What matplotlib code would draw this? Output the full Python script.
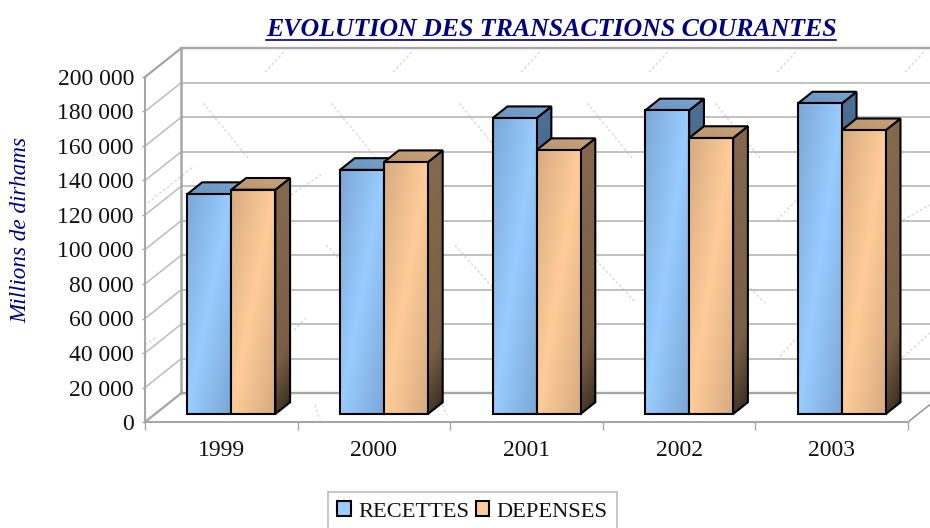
import numpy as np
import matplotlib
matplotlib.use('Agg')
import matplotlib.pyplot as plt
from matplotlib.colors import LinearSegmentedColormap
from matplotlib.lines import Line2D
from matplotlib.patches import Patch, Polygon

plt.rcParams['font.family'] = ['Liberation Serif', 'DejaVu Serif']

years = ['1999', '2000', '2001', '2002', '2003']
recettes = [127500, 141500, 171500, 176000, 180000]
depenses = [130000, 146000, 153000, 160000, 164500]
y_ticks = list(range(0, 200001, 20000))
y_tick_labels = ['0', '20 000', '40 000', '60 000', '80 000', '100 000', '120 000',
                 '140 000', '160 000', '180 000', '200 000']

W, H = 930, 528
fig = plt.figure(figsize=(W / 100, H / 100), dpi=100)
ax = fig.add_axes([145 / W, 1 - 422 / H, (908 - 145) / W, (422 - 77) / H])
ax.set_zorder(2)
ax.patch.set_alpha(0)

# how far one unit of fake depth moves things, in data units
depth_x = 36 / 152.6
depth_y = 28.6 / 1.725 * 1000
bar_w = 0.288
front = 0.28
back = 0.69

grey = '#a6a6a6'
grid_grey = '#bcbcbc'


def proj(x, y, d):
    return (x + d * depth_x, y + d * depth_y)


def shaded_poly(pts, cm, values, z):
    xs = [p[0] for p in pts]
    ys = [p[1] for p in pts]
    im = ax.imshow(values, cmap=cm, vmin=0, vmax=1, aspect='auto', origin='upper',
                   extent=(min(xs), max(xs), min(ys), max(ys)), zorder=z, interpolation='bilinear')
    poly = Polygon(pts, closed=True, facecolor='none', edgecolor='black', lw=1.5,
                   joinstyle='miter', zorder=z + 0.1, clip_on=False)
    ax.add_patch(poly)
    im.set_clip_path(poly)


uu, vv = np.meshgrid(np.linspace(0, 1, 80), np.linspace(0, 1, 80))
front_vals = np.abs(uu + vv - 1)
side_vals = np.clip(0.9 * vv + 0.1 * uu, 0, 1)
top_vals = 0.36 * (1 - uu) + 0.3 * vv

blue_front = LinearSegmentedColormap.from_list('bf', ['#99ccff', '#7ba7d6'])
orange_front = LinearSegmentedColormap.from_list('of', ['#ffcc99', '#d6ab80'])
blue_side = LinearSegmentedColormap.from_list('bs', ['#4f7199', '#3f5f82', '#22364c'])
orange_side = LinearSegmentedColormap.from_list('os', [(0, '#866a4e'), (0.72, '#7a5f46'), (1, '#33281c')])
blue_top = LinearSegmentedColormap.from_list('bt', ['#7aa5d2', '#6288b2'])
orange_top = LinearSegmentedColormap.from_list('ot', ['#c9a37a', '#b08d68'])


def bar3d(x0, value, cf, cs, ct, z):
    x1 = x0 + bar_w
    a = proj(x0, 0, front)
    b = proj(x1, 0, front)
    c = proj(x1, value, front)
    d = proj(x0, value, front)
    c2 = proj(x1, value, back)
    d2 = proj(x0, value, back)
    b2 = proj(x1, 0, back)
    shaded_poly([b, b2, c2, c], cs, side_vals, z)
    shaded_poly([d, c, c2, d2], ct, top_vals, z + 0.2)
    shaded_poly([a, b, c, d], cf, front_vals, z + 0.4)


# back wall and side wall
x_left, x_right = -0.5, 4.5
for v in y_ticks:
    p0 = proj(x_left, v, 0)
    p1 = proj(x_left, v, 1)
    p2 = proj(x_right, v, 1)
    ax.plot([p0[0], p1[0]], [p0[1], p1[1]], color=grid_grey, lw=1.1, clip_on=False, zorder=1)
    ax.plot([p1[0], p2[0]], [p1[1], p2[1]], color=grid_grey if 0 < v < 200000 else grey,
            lw=1.3 if 0 < v < 200000 else 1.7, clip_on=False, zorder=1)
wall0 = proj(x_left, 0, 1)
wall1 = proj(x_left, 200000, 1)
ax.plot([wall0[0], wall1[0]], [wall0[1], wall1[1]], color=grey, lw=1.8, clip_on=False, zorder=1.1)
for xx in (x_left, x_right):
    p0 = proj(xx, 0, 0)
    p1 = proj(xx, 0, 1)
    ax.plot([p0[0], p1[0]], [p0[1], p1[1]], color=grey if xx < 0 else '#8c8c8c', lw=1.6 if xx < 0 else 1.0,
            clip_on=False, zorder=1.1)
p0 = proj(x_left, 200000, 0)
p1 = proj(x_left, 200000, 1)
ax.plot([p0[0], p1[0]], [p0[1], p1[1]], color=grey, lw=1.6, clip_on=False, zorder=1.1)

# scanned paper marks in the background, in picture pixels
marks = [(203, 103, 248, 158), (265, 72, 284, 52), (148, 203, 194, 166), (291, 195, 321, 175),
         (326, 245, 350, 270), (455, 245, 493, 288), (596, 260, 636, 303), (750, 288, 765, 303),
         (777, 220, 797, 200), (903, 220, 930, 205), (294, 330, 306, 318), (777, 360, 797, 337),
         (903, 357, 930, 333), (145, 345, 155, 338), (315, 405, 320, 420), (442, 405, 447, 415)]
for i in range(1, 6):
    marks.append((265 + 128 * i, 72, 284 + 128 * i, 52))
for i in range(1, 5):
    marks.append((203 + 128 * i, 103, 248 + 128 * i, 158))
for m in marks:
    fig.add_artist(Line2D([m[0] / W, m[2] / W], [1 - m[1] / H, 1 - m[3] / H], transform=fig.transFigure,
                          color='#e0e0e0', lw=1.3, ls=(0, (1.5, 1.2)), zorder=0))

for i in range(len(years)):
    bar3d(i - bar_w, recettes[i], blue_front, blue_side, blue_top, 3 + i)
    bar3d(i, depenses[i], orange_front, orange_side, orange_top, 3.5 + i)

ax.set_xlim(x_left, x_right)
ax.set_ylim(0, 200000)
for s in ('top', 'right'):
    ax.spines[s].set_visible(False)
for s in ('left', 'bottom'):
    ax.spines[s].set_color(grey)
    ax.spines[s].set_linewidth(1.5)
    ax.spines[s].set_zorder(1.5)
ax.set_yticks(y_ticks)
ax.set_yticklabels(y_tick_labels, fontsize=17, color='#111111')
ax.tick_params(axis='y', length=2, width=1, color=grey, pad=6)
ax.set_xticks(range(len(years)))
ax.set_xticklabels(years, fontsize=17, color='#111111')
ax.set_xticks(np.arange(-0.5, 5), minor=True)
ax.tick_params(axis='x', which='major', length=0, pad=13)
ax.tick_params(axis='x', which='minor', length=6, width=1, color=grey)

fig.text(21 / W, 1 - 230 / H, 'Millions de dirhams', rotation=90, fontsize=16.7, style='italic',
         color='#000080', ha='center', va='center')

title = fig.text(551 / W, 1 - 36 / H, 'EVOLUTION DES TRANSACTIONS COURANTES', fontsize=18.6,
                 style='italic', weight='bold', color='#000080', ha='center', va='baseline')
fig.canvas.draw()
box = title.get_window_extent()
fig.add_artist(Line2D([box.x0 / W, box.x1 / W], [1 - 39.5 / H, 1 - 39.5 / H], transform=fig.transFigure,
                      color='#000080', lw=1.2))

handles = [Patch(facecolor='#99ccff', edgecolor='black', lw=1.5, label='RECETTES'),
           Patch(facecolor='#ffcc99', edgecolor='black', lw=1.5, label='DEPENSES')]
leg = fig.legend(handles=handles, ncol=2, loc='upper center', bbox_to_anchor=(472.5 / W, 1 - 492 / H),
                 fontsize=16.2, handlelength=0.6, handleheight=0.6, handletextpad=0.33, columnspacing=0.3,
                 fancybox=False, framealpha=1, edgecolor='#bcbcbc', borderpad=0.42, borderaxespad=0,
                 labelcolor='#111111')
leg.get_frame().set_linewidth(1.2)

fig.savefig('out.png', dpi=100)
